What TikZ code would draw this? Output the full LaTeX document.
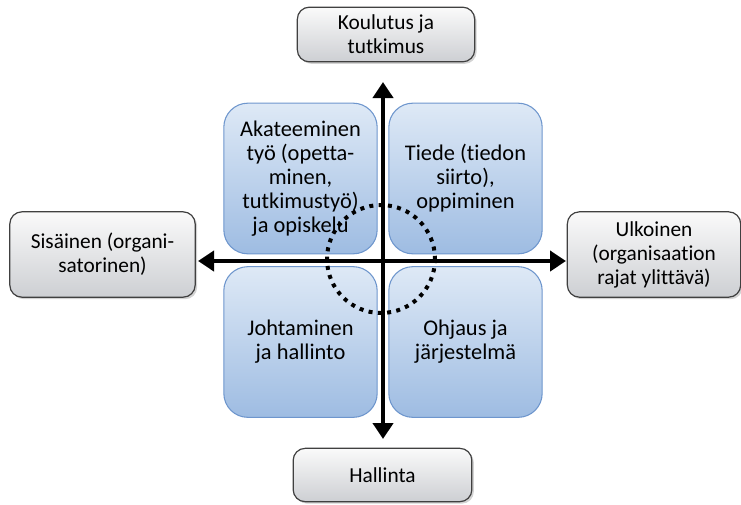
\documentclass[tikz,border=0pt]{standalone}
\usepackage{fontspec}
\setmainfont{Carlito}[Ligatures=NoCommon]
\usetikzlibrary{arrows.meta,shadows}

\definecolor{boxgraytop}{RGB}{250,250,250}
\definecolor{boxgraybot}{RGB}{205,207,211}
\definecolor{boxblutop}{RGB}{222,233,246}
\definecolor{boxblubot}{RGB}{158,188,226}
\definecolor{boxbluline}{RGB}{110,150,205}

\tikzset{
  outerbox/.style={draw=black!75, line width=0.9pt, rounded corners=9pt,
    top color=boxgraytop, bottom color=boxgraybot,
    drop shadow={opacity=0.35, shadow xshift=1.5pt, shadow yshift=-1.5pt},
    align=center, inner sep=0pt, font=\fontsize{16}{18}\selectfont},
  quadbox/.style={draw=boxbluline, line width=0.8pt, rounded corners=18pt,
    top color=boxblutop, bottom color=boxblubot,
    minimum width=115pt, minimum height=113pt,
    align=center, inner sep=0pt, font=\fontsize{16.8}{18}\selectfont},
  axisline/.style={line width=3pt, -{Triangle[length=12pt,width=15pt]}}
}

\begin{document}
\begin{tikzpicture}[x=0.75pt,y=0.75pt,yscale=-1,xscale=1]
\useasboundingbox (0,0) rectangle (741,504);

% Quadrant boxes
\draw (300.5,178.5) node [quadbox] (work) {Akateeminen\\työ (opetta-\\minen,\\tutkimustyö)\\ja opiskelu};
\draw (465.5,178.5) node [quadbox] (science) {Tiede (tiedon\\siirto),\\oppiminen};
\draw (300.5,342) node [quadbox] (admin) {Johtaminen\\ja hallinto};
\draw (465.5,342) node [quadbox] (system) {Ohjaus ja\\järjestelmä};

% Outer boxes
\draw (386,34.5) node [outerbox, minimum width=133pt, minimum height=41pt] (edu) {Koulutus ja\\tutkimus};
\draw (382.5,475) node [outerbox, minimum width=134pt, minimum height=40pt] (gov) {Hallinta};
\draw (102.5,254.5) node [outerbox, minimum width=139pt, minimum height=64pt] (inner) {Sisäinen (organi-\\satorinen)};
\draw (654,254.5) node [outerbox, minimum width=130pt, minimum height=64pt] (outer) {Ulkoinen\\(organisaation\\rajat ylittävä)};

% Axes
\coordinate (origin) at (383,261);
\coordinate (up) at (383,82);
\coordinate (down) at (383,439);
\coordinate (left) at (198,261);
\coordinate (right) at (566,261);
\draw [axisline] (origin) -- (up);
\draw [axisline] (origin) -- (down);
\draw [axisline] (origin) -- (left);
\draw [axisline] (origin) -- (right);

% Dotted circle
\draw [line width=3pt, dash pattern=on 3pt off 4pt] (381,259) circle [radius=54];

\end{tikzpicture}
\end{document}
